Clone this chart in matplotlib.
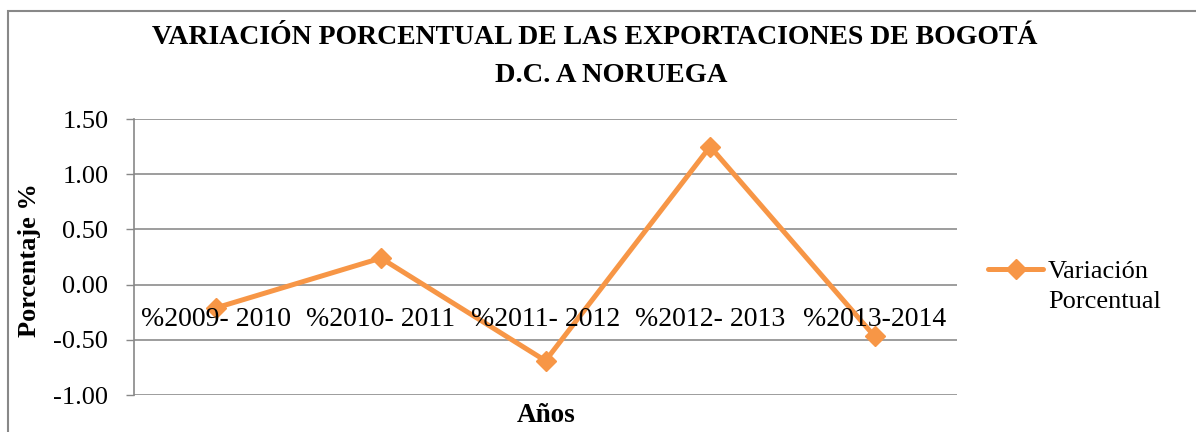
import matplotlib
matplotlib.use("Agg")
import matplotlib.pyplot as plt
from matplotlib.patches import Rectangle
from matplotlib.transforms import offset_copy

categories = ["%2009- 2010", "%2010- 2011", "%2011- 2012", "%2012- 2013", "%2013-2014"]
values = [-0.21, 0.24, -0.69, 1.25, -0.47]
yticks = [-1.0, -0.5, 0.0, 0.5, 1.0, 1.5]
title_lines = ["VARIACIÓN PORCENTUAL DE LAS EXPORTACIONES DE BOGOTÁ", "D.C. A NORUEGA"]
series_name = ["Variación", "Porcentual"]

W, H = 1196, 432
fig = plt.figure(figsize=(W / 100, H / 100), dpi=100)
serif = ["Liberation Serif", "DejaVu Serif"]
orange = "#F79646"

# outer chart frame
fig.patches.append(Rectangle((7.5 / W, -0.1), 1.2, 1 - 11 / H + 0.1, transform=fig.transFigure,
                             fill=False, edgecolor="#888888", linewidth=1.5))

ax = fig.add_axes([134 / W, 1 - 395 / H, (957 - 134) / W, (395 - 119) / H])
x = list(range(len(categories)))
line, = ax.plot(x, values, color=orange, linewidth=3.6, marker="D", markersize=10.5,
                solid_capstyle="round", zorder=3)
ax.set_xlim(-0.5, len(categories) - 0.5)
ax.set_ylim(-1.0, 1.5)
ax.set_yticks(yticks)
ax.set_yticklabels([f"{v:.2f}" for v in yticks], fontfamily=serif, fontsize=19)
ax.tick_params(axis="y", length=5.5, width=1, color="#888888", pad=13)
ax.set_xticks([])
ax.grid(axis="y", color="#8c8c8c", linewidth=1.2)
ax.set_axisbelow(True)
for s in ["top", "right", "bottom"]:
    ax.spines[s].set_visible(False)
ax.spines["left"].set_color("#888888")
ax.spines["left"].set_linewidth(1.2)

for i, lab in enumerate(categories):
    ax.text(i, 0, lab, transform=offset_copy(ax.transData, fig=fig, x=0, y=-35, units="dots"),
            ha="center", va="center", fontfamily=serif, fontsize=20)

fig.text(30 / W, 1 - 260 / H, "Porcentaje %", rotation=90, ha="center", va="center",
         fontfamily=serif, fontsize=19, fontweight="bold")
fig.text(546 / W, 1 - 416 / H, "Años", ha="center", va="center",
         fontfamily=serif, fontsize=19.5, fontweight="bold")
fig.text(595 / W, 1 - 44 / H, title_lines[0], ha="center", va="baseline", fontfamily=serif,
         fontsize=20, fontweight="bold")
fig.text(611 / W, 1 - 82 / H, title_lines[1], ha="center", va="baseline", fontfamily=serif,
         fontsize=20.5, fontweight="bold")

# legend: handle aligned with the first label line
leg = fig.legend([line], [series_name[0]], loc="center left",
                 bbox_to_anchor=(988 / W, 1 - 271 / H), frameon=False,
                 prop={"family": serif, "size": 19}, handlelength=2.1, handletextpad=0.15,
                 borderpad=0, borderaxespad=0)
for h in leg.legend_handles:
    h.set_markersize(10.5)
fig.text(1048 / W, 1 - 302 / H, series_name[1], ha="left", va="center",
         fontfamily=serif, fontsize=19)

fig.savefig("out.png", dpi=100)
